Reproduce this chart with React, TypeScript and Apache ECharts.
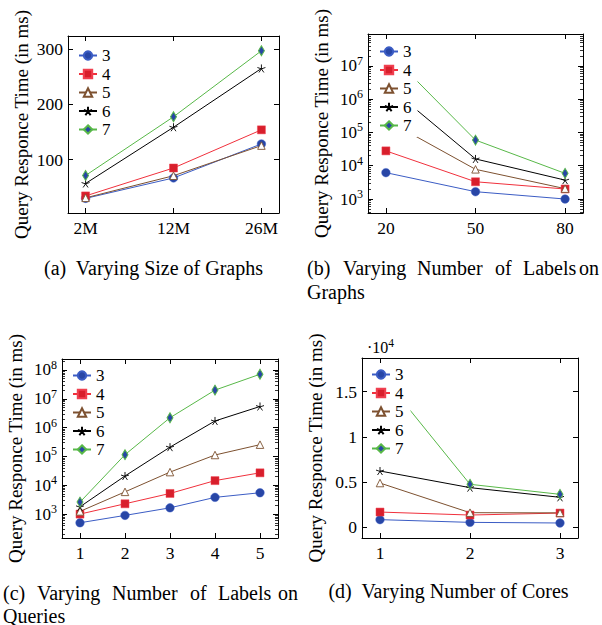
import React, { useEffect, useRef } from 'react';
import * as echarts from 'echarts';

const FONT = '"Liberation Serif", "Times New Roman", serif';

// ---- series names (legend) ----
const seriesNames = ['3', '4', '5', '6', '7'];

// ---- (a) Varying Size of Graphs ----
const sizeCats = ['2M', '12M', '26M'];
const sizeX = [0, 1, 2];
const size3 = [30, 67, 128.5];
const size4 = [34.5, 85, 154];
const size5 = [31, 71, 125.5];
const size6 = [57, 158.7, 265];
const size7 = [71.5, 177.6, 297];

// ---- (b) Varying Number of Labels on Graphs ----
const labelsX = [20, 50, 80];
const lg3 = [6200, 1660, 1000];
const lg4 = [28000, 3300, 2000];
const lg5 = [240000, 7800, 2050];
const lg6 = [2800000, 16000, 3700];
const lg7 = [31000000, 59000, 5900];

// ---- (c) Varying Number of Labels on Queries ----
const queryX = [1, 2, 3, 4, 5];
const lq3 = [500, 900, 1650, 3800, 5500];
const lq4 = [1000, 2280, 5200, 14500, 27000];
const lq5 = [1240, 5900, 28600, 112000, 256000];
const lq6 = [1790, 21000, 210000, 1700000, 5400000];
const lq7 = [2600, 115000, 2200000, 20000000, 71000000];

// ---- (d) Varying Number of Cores ----
const coresX = [1, 2, 3];
const co3 = [850, 550, 480];
const co4 = [1690, 1360, 1580];
const co5 = [4900, 1620, 1600];
const co6 = [6230, 4390, 3320];
const co7 = [17070, 4760, 3650];

// ---- tick values ----
const sizeYTicks = [100, 200, 300];
const logTicksB = [1e3, 1e4, 1e5, 1e6, 1e7];
const logTicksC = [1e3, 1e4, 1e5, 1e6, 1e7, 1e8];
const coresYTicks = [0, 5000, 10000, 15000];

const STAR = 'path://M5,0L5,5M5,5L9.76,3.45M5,5L7.94,9.05M5,5L2.06,9.05M5,5L0.24,3.45';

const styles = [
  { symbol: 'circle', size: 8.5, line: '#3b5cc4', fill: '#2846a6', border: '#3b5cc4', bw: 0.5 },
  { symbol: 'rect', size: 8, line: '#f0303c', fill: '#d81f2c', border: '#f04050', bw: 0.5 },
  { symbol: 'triangle', size: 7.5, line: '#7d5130', fill: '#ffffff', border: '#7d5130', bw: 0.9 },
  { symbol: STAR, size: 8, line: '#000000', fill: '#000000', border: '#000000', bw: 0.9 },
  { symbol: 'diamond', size: [6, 10], line: '#58b848', fill: '#2846a6', border: '#58b848', bw: 1 },
];

function minorLogTicks(lo: number, hi: number): number[] {
  const out: number[] = [];
  for (let k = 1; k <= 9; k++) {
    for (let m = 2; m <= 9; m++) {
      const v = m * Math.pow(10, k);
      if (v >= lo && v <= hi) out.push(v);
    }
  }
  return out;
}

const logFmt = (v: number) => `{b|10}{e|${Math.round(Math.log10(v))}}`;
const logRich = {
  b: { fontFamily: FONT, fontSize: 17, color: '#000' },
  e: { fontFamily: FONT, fontSize: 12, color: '#000', padding: [0, 0, 10, 0] },
};

type Panel = {
  grid: { left: number; top: number; width: number; height: number };
  xMin: number; xMax: number; xTicks: number[]; xFmt: (v: number) => string;
  yLog: boolean; yMin: number; yMax: number; yTicks: number[];
  yFmt: (v: number) => string; yRich?: any;
  xs: number[]; ys: number[][];
  legend: { left: number; top: number; padding: number[] };
};

const panels: Panel[] = [
  {
    grid: { left: 68, top: 36, width: 211, height: 177 },
    xMin: -0.2, xMax: 2.2, xTicks: sizeX, xFmt: (v) => sizeCats[Math.round(v)] ?? '',
    yLog: false, yMin: 3.6, yMax: 323.7, yTicks: sizeYTicks, yFmt: (v) => String(v),
    xs: sizeX, ys: [size3, size4, size5, size6, size7],
    legend: { left: 75, top: 44, padding: [3, 6, 3, 3] },
  },
  {
    grid: { left: 368, top: 34, width: 215, height: 179 },
    xMin: 14, xMax: 86, xTicks: labelsX, xFmt: (v) => String(v),
    yLog: true, yMin: 380, yMax: 9.1e7, yTicks: logTicksB, yFmt: logFmt, yRich: logRich,
    xs: labelsX, ys: [lg3, lg4, lg5, lg6, lg7],
    legend: { left: 376, top: 40, padding: [3, 6, 3, 3] },
  },
  {
    grid: { left: 62, top: 359, width: 216, height: 179 },
    xMin: 0.6, xMax: 5.4, xTicks: queryX, xFmt: (v) => String(v),
    yLog: true, yMin: 148, yMax: 2.4e8, yTicks: logTicksC, yFmt: logFmt, yRich: logRich,
    xs: queryX, ys: [lq3, lq4, lq5, lq6, lq7],
    legend: { left: 69, top: 364, padding: [3, 6, 3, 3] },
  },
  {
    grid: { left: 362, top: 358, width: 216, height: 180 },
    xMin: 0.8, xMax: 3.2, xTicks: coresX, xFmt: (v) => String(v),
    yLog: false, yMin: -1180, yMax: 18730, yTicks: coresYTicks, yFmt: (v) => String(v / 10000),
    xs: coresX, ys: [co3, co4, co5, co6, co7],
    legend: { left: 368, top: 363, padding: [3, 7, 3, 3] },
  },
];

function buildOption() {
  const option: any = {
    animation: false,
    backgroundColor: '#ffffff',
    textStyle: { fontFamily: FONT, color: '#000' },
    grid: [], xAxis: [], yAxis: [], series: [], legend: [], graphic: [],
  };
  const axisLine = { show: true, onZero: false, lineStyle: { color: '#000', width: 1 } };
  panels.forEach((p, gi) => {
    option.grid.push({ ...p.grid, show: false });
    const xMain = option.xAxis.length;
    ['bottom', 'top'].forEach((pos, k) => {
      option.xAxis.push({
        type: 'value', gridIndex: gi, position: pos, min: p.xMin, max: p.xMax,
        axisLine,
        axisTick: { show: true, inside: true, length: 5, customValues: p.xTicks, lineStyle: { color: '#000' } },
        axisLabel: {
          show: k === 0, customValues: p.xTicks, formatter: p.xFmt, margin: 6,
          fontFamily: FONT, fontSize: 17.5, color: '#000',
        },
        splitLine: { show: false },
      });
    });
    const yMain = option.yAxis.length;
    const yType = p.yLog ? 'log' : 'value';
    ['left', 'right'].forEach((pos, k) => {
      option.yAxis.push({
        type: yType, gridIndex: gi, position: pos, min: p.yMin, max: p.yMax,
        ...(p.yLog ? { logBase: 10 } : {}),
        axisLine,
        axisTick: { show: true, inside: true, length: 5, customValues: p.yTicks, lineStyle: { color: '#000' } },
        axisLabel: {
          show: k === 0, customValues: p.yTicks, formatter: p.yFmt, margin: 5,
          fontFamily: FONT, fontSize: 17.5, color: '#000', ...(p.yRich ? { rich: p.yRich } : {}),
        },
        splitLine: { show: false },
        ...(k === 0
          ? {
              name: 'Query Responce Time (in ms)', nameLocation: 'middle', nameGap: 37, nameRotate: 90,
              nameTextStyle: { fontFamily: FONT, fontSize: 19, color: '#000' },
            }
          : {}),
      });
    });
    if (p.yLog) {
      const minors = minorLogTicks(p.yMin, p.yMax);
      ['left', 'right'].forEach((pos) => {
        option.yAxis.push({
          type: 'log', logBase: 10, gridIndex: gi, position: pos, min: p.yMin, max: p.yMax,
          axisLine: { show: false, onZero: false },
          axisTick: { show: true, inside: true, length: 3, customValues: minors, lineStyle: { color: '#000', width: 0.8 } },
          axisLabel: { show: false },
          splitLine: { show: false },
        });
      });
    }
    p.ys.forEach((vals, si) => {
      const s = styles[si];
      option.series.push({
        type: 'line', name: seriesNames[si], xAxisIndex: xMain, yAxisIndex: yMain,
        data: p.xs.map((x, i) => [x, vals[i]]),
        symbol: s.symbol, symbolSize: s.size, showSymbol: true,
        lineStyle: { color: s.line, width: 1 },
        itemStyle: { color: s.fill, borderColor: s.border, borderWidth: s.bw },
        z: 2,
      });
    });
    option.legend.push({
      orient: 'vertical', left: p.legend.left, top: p.legend.top, padding: p.legend.padding,
      itemGap: 1.5, itemWidth: 18, itemHeight: 10.5, backgroundColor: '#ffffff', borderWidth: 0,
      selectedMode: false, data: seriesNames, z: 20, zlevel: 0,
      textStyle: { fontFamily: FONT, fontSize: 17, color: '#000' },
    });
  });

  const cap = (text: string, x: number, y: number, align = 'left') => ({
    type: 'text', x, y, silent: true, z: 30,
    style: {
      text, font: `20px ${FONT}`, fontFamily: FONT, fontSize: 20, fill: '#000',
      align, verticalAlign: 'middle',
    },
  });
  option.graphic = [
    cap('(a)  Varying Size of Graphs', 153.5, 267.5, 'center'),
    cap('(b)', 307, 267.5), cap('Varying', 343, 267.5), cap('Number', 417, 267.5),
    cap('of', 495, 267.5), cap('Labels', 523, 267.5), cap('on', 599, 267.5, 'right'),
    cap('Graphs', 307, 291.5),
    cap('(c)', 3, 592.5), cap('Varying', 37, 592.5), cap('Number', 112, 592.5),
    cap('of', 190, 592.5), cap('Labels', 218, 592.5), cap('on', 298, 592.5, 'right'),
    cap('Queries', 3, 615.5),
    cap('(d)  Varying Number of Cores', 448.5, 590.5, 'center'),
    {
      type: 'text', x: 367, y: 347, silent: true,
      style: {
        text: '{a|·10}{e|4}', verticalAlign: 'middle', align: 'left',
        rich: {
          a: { fontFamily: FONT, fontSize: 16, color: '#000' },
          e: { fontFamily: FONT, fontSize: 11.5, color: '#000', padding: [0, 0, 9, 0] },
        },
      },
    },
  ];
  return option;
}

export default function App() {
  const ref = useRef<HTMLDivElement>(null);
  useEffect(() => {
    document.body.style.margin = '0';
    const chart = echarts.init(ref.current!, null, { renderer: 'svg', width: 602, height: 625 });
    chart.setOption(buildOption());
    return () => chart.dispose();
  }, []);
  return (
    <div
      ref={ref}
      style={{ width: 602, height: 625, position: 'absolute', left: 0, top: 0, background: '#fff' }}
    />
  );
}
